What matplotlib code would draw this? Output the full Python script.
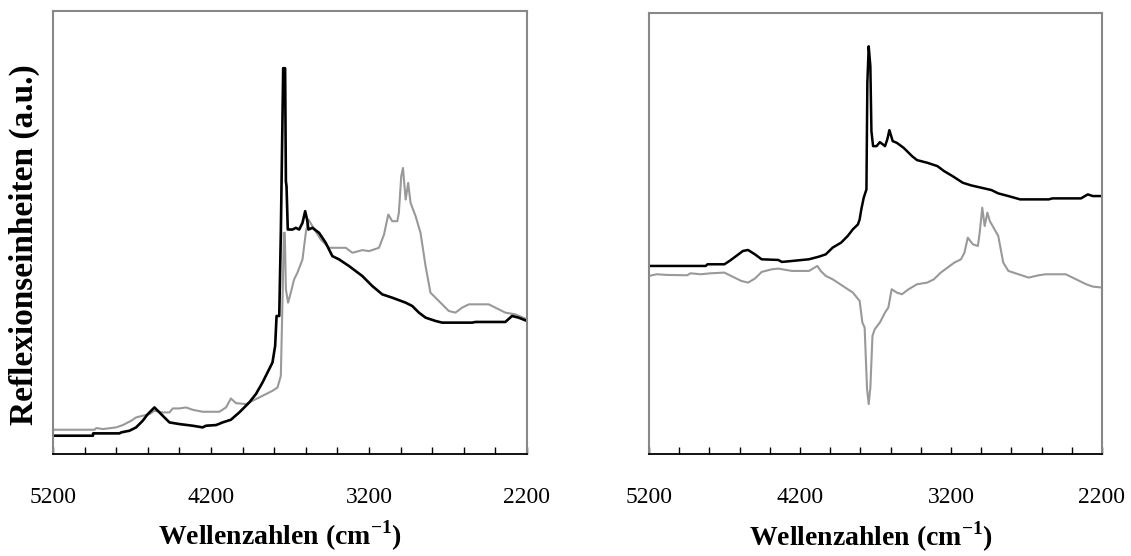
import matplotlib
matplotlib.use("Agg")
import matplotlib.pyplot as plt

plt.rcParams['font.family'] = ['Liberation Serif', 'DejaVu Serif']
plt.rcParams['mathtext.fontset'] = 'custom'
plt.rcParams['mathtext.rm'] = 'Liberation Serif'
plt.rcParams['mathtext.bf'] = 'Liberation Serif:bold'

# left panel: two reflection spectra
left_black_wn = [5200, 4947, 4946, 4779, 4768, 4716, 4674, 4632, 4600, 4558, 4516, 4463, 4400, 4316,
                 4253, 4232, 4168, 4126, 4074, 4021, 3958, 3916, 3874, 3832, 3811, 3794, 3785, 3768,
                 3758, 3743, 3731, 3726, 3722, 3714, 3684, 3663, 3642, 3621, 3604, 3592, 3583, 3558,
                 3516, 3474, 3432, 3389, 3326, 3242, 3179, 3116, 3053, 2968, 2926, 2884, 2842, 2779,
                 2737, 2547, 2526, 2337, 2295, 2253, 2200]
left_black_val = [5.5, 5.5, 6.2, 6.2, 6.5, 7.0, 8.0, 10.0, 12.0, 14.0, 12.0, 9.5, 9.0, 8.5,
                  8.0, 8.5, 8.7, 9.5, 10.3, 12.5, 15.5, 18.0, 21.5, 25.5, 27.5, 32.5, 41.5, 41.5,
                  66.5, 116.0, 116.0, 82.0, 80.5, 67.5, 67.5, 68.0, 67.5, 69.5, 73.0, 70.5, 67.5, 68.0,
                  66.5, 63.5, 59.5, 58.5, 56.5, 53.5, 50.5, 48.0, 47.0, 45.5, 44.5, 42.5, 41.0, 40.0,
                  39.5, 39.5, 39.7, 39.7, 41.5, 41.0, 40.0]

left_gray_wn = [5200, 4937, 4926, 4884, 4800, 4758, 4705, 4674, 4632, 4589, 4558, 4505, 4463, 4442,
                4400, 4358, 4316, 4253, 4147, 4105, 4074, 4042, 3979, 3937, 3895, 3853, 3811, 3779,
                3758, 3752, 3745, 3739, 3733, 3726, 3712, 3695, 3674, 3653, 3621, 3600, 3583, 3558,
                3505, 3453, 3347, 3305, 3242, 3200, 3137, 3105, 3078, 3053, 3021, 3011, 2996, 2985,
                2968, 2952, 2937, 2905, 2874, 2842, 2811, 2758, 2695, 2653, 2611, 2568, 2442, 2379,
                2337, 2274, 2200]
left_gray_val = [7.3, 7.3, 7.8, 7.5, 8.0, 8.7, 10.0, 11.0, 11.5, 12.0, 13.0, 12.5, 12.5, 13.7,
                 13.7, 14.0, 13.3, 12.7, 12.7, 14.0, 16.7, 15.3, 15.0, 16.0, 17.0, 18.0, 19.0, 20.0,
                 23.5, 36.5, 51.5, 66.5, 66.5, 49.5, 45.5, 48.5, 52.5, 54.5, 58.5, 66.5, 70.5, 68.5,
                 64.5, 62.0, 62.0, 60.5, 61.3, 61.0, 62.0, 66.0, 72.0, 70.0, 70.0, 72.5, 83.5, 86.0,
                 76.5, 81.5, 75.5, 71.5, 66.5, 56.5, 48.5, 46.0, 43.0, 42.5, 44.0, 45.0, 45.0, 43.5,
                 42.5, 42.0, 40.5]

# right panel: spectrum and difference spectrum
right_black_wn = [5200, 4824, 4813, 4701, 4667, 4622, 4578, 4544, 4499, 4454, 4343, 4320, 4253, 4141,
                  4074, 4029, 3984, 3928, 3884, 3850, 3816, 3805, 3794, 3778, 3760, 3754, 3745, 3734,
                  3727, 3716, 3693, 3671, 3637, 3622, 3608, 3586, 3559, 3514, 3458, 3425, 3357, 3290,
                  3246, 3190, 3122, 3066, 2999, 2932, 2887, 2820, 2742, 2552, 2529, 2339, 2294, 2261,
                  2200]
right_black_val = [56.5, 56.5, 57.0, 57.0, 58.0, 59.5, 61.0, 61.3, 60.0, 58.5, 58.3, 57.7, 58.0, 58.5,
                   59.3, 60.0, 62.0, 63.5, 65.5, 67.5, 69.0, 70.5, 73.5, 77.0, 79.5, 111.5, 122.5, 116.5,
                   97.0, 92.5, 92.5, 93.7, 92.5, 94.5, 97.3, 94.0, 93.5, 92.0, 89.5, 88.3, 87.5, 86.5,
                   85.0, 83.5, 81.5, 80.7, 80.0, 79.3, 78.3, 77.5, 76.5, 76.5, 76.8, 76.8, 78.0, 77.5,
                   77.5]

right_gray_wn = [5200, 5149, 5081, 4947, 4925, 4857, 4790, 4701, 4656, 4589, 4544, 4499, 4454, 4387,
                 4343, 4253, 4141, 4085, 4063, 4029, 3984, 3917, 3850, 3805, 3787, 3772, 3756, 3745,
                 3734, 3720, 3705, 3671, 3637, 3615, 3593, 3559, 3525, 3481, 3425, 3357, 3313, 3268,
                 3223, 3178, 3134, 3111, 3089, 3055, 3022, 3010, 2993, 2977, 2959, 2943, 2887, 2854,
                 2820, 2753, 2686, 2619, 2574, 2440, 2372, 2305, 2261, 2200]
right_gray_val = [53.5, 54.0, 53.8, 53.7, 54.3, 54.0, 54.3, 54.5, 53.5, 52.0, 51.5, 52.7, 54.7, 55.5,
                  55.7, 55.0, 55.0, 56.5, 55.0, 53.5, 52.5, 50.5, 48.5, 46.0, 39.5, 38.0, 19.5, 15.0,
                  20.0, 35.5, 37.5, 39.5, 42.5, 44.0, 49.5, 48.5, 48.0, 49.5, 51.0, 51.5, 52.5, 54.5,
                  56.0, 57.5, 58.5, 60.5, 65.0, 63.0, 62.5, 66.5, 74.0, 68.5, 72.5, 70.0, 65.5, 57.5,
                  55.0, 54.0, 53.0, 53.7, 54.0, 54.0, 52.5, 51.0, 50.3, 50.0]

major_ticks = [5200, 4200, 3200, 2200]
minor_ticks = list(range(2200, 5201, 200))

W, H = 1131, 556
fig = plt.figure(figsize=(W / 100, H / 100), dpi=100)
ax1 = fig.add_axes([53 / W, (H - 454) / H, 474 / W, 443 / H])
ax2 = fig.add_axes([649 / W, (H - 454) / H, 453 / W, 441 / H])

ax1.plot(left_gray_wn, left_gray_val, color='#999999', lw=1.5)
ax1.plot(left_black_wn, left_black_val, color='black', lw=1.9)
ax1.set_ylim(0, 133.2)

ax2.plot(right_gray_wn, right_gray_val, color='#999999', lw=1.5)
ax2.plot(right_black_wn, right_black_val, color='black', lw=1.8)
ax2.set_ylim(0, 132.5)

for ax in (ax1, ax2):
    ax.set_xlim(5200, 2200)
    ax.set_xticks(major_ticks)
    ax.set_xticks(minor_ticks, minor=True)
    ax.set_yticks([])
    ax.tick_params(axis='x', which='both', direction='in', length=5, width=1, colors='black',
                   labelsize=17, pad=24)
    for side in ('left', 'top', 'right'):
        ax.spines[side].set_color('#888888')
        ax.spines[side].set_linewidth(1.5)
    ax.spines['bottom'].set_color('black')
    ax.spines['bottom'].set_linewidth(1.3)

xlabel = r'Wellenzahlen (cm$^{\mathbf{-1}}$)'
fig.text(280 / W, 1 - 545 / H, xlabel, ha='center', va='baseline', fontsize=20, fontweight='bold')
fig.text(871 / W, 1 - 546 / H, xlabel, ha='center', va='baseline', fontsize=20, fontweight='bold')
fig.text(24 / W, 1 - 245 / H, 'Reflexionseinheiten (a.u.)', ha='center', va='center',
         rotation=90, fontsize=24, fontweight='bold')

fig.savefig('out.png', dpi=100)
